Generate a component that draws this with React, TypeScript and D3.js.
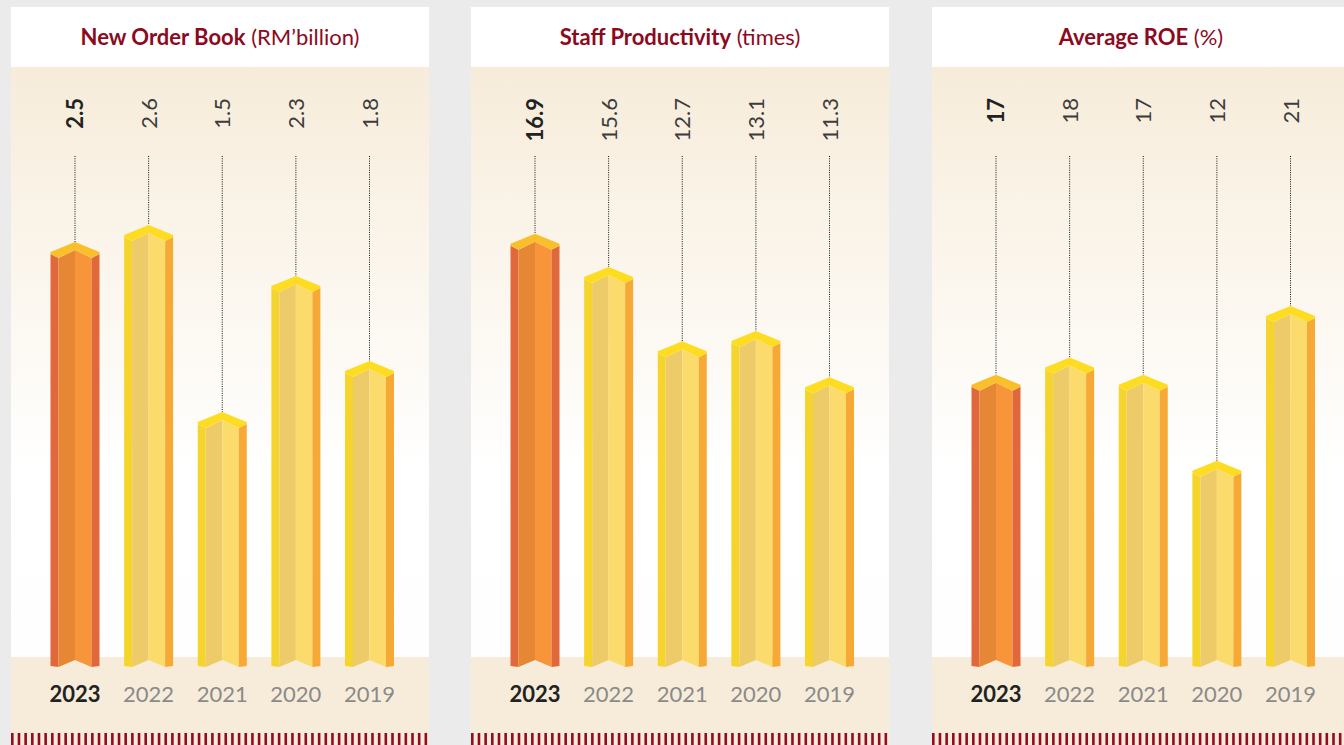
import * as d3 from 'd3';

// Three KPI panels, each a row of 3D "prism" bars, newest year highlighted in orange.

const years = ['2023', '2022', '2021', '2020', '2019'];
const orderBook = [2.5, 2.6, 1.5, 2.3, 1.8];
const staffProductivity = [16.9, 15.6, 12.7, 13.1, 11.3];
const averageRoe = [17, 18, 17, 12, 21];

const titles = ['New Order Book', 'Staff Productivity', 'Average ROE'];
const units = ['(RM\u2019billion)', '(times)', '(%)'];
const labelDigits = [1, 1, 0];

const W = 1344;
const H = 745;
const PANEL_W = 418;
const PANEL_X = [11, 471, 932];
const TOP = 7;
const BEIGE_TOP = 67;
const BAND_TOP = 657;
const STRIPE_TOP = 733;
const BASE_Y = 667;

const RED = '#8C0A1E';
const BEIGE = '#F7ECDA';

const HIGHLIGHT = { left: '#E0683A', midL: '#E68735', midR: '#F8943A', right: '#E0683A', cap: '#F9C02B' };
const NORMAL = { left: '#F6D42E', midL: '#EDCB68', midR: '#FBDB6C', right: '#F6A935', cap: '#FDDC22' };

const FONT = 'Lato, "Open Sans", sans-serif';

type Palette = typeof NORMAL;

function Prism({ cx, py, pal }: { cx: number; py: number; pal: Palette }) {
  const w = 24.5;
  const s = 8;
  const L = cx - w, R = cx + w, Ls = L + s, Rs = R - s;
  const pts = (a: [number, number][]) => a.map((p) => p.join(',')).join(' ');
  return (
    <g>
      <polygon fill={pal.left} points={pts([[L, py + 12], [Ls, py + 16], [Ls, BASE_Y], [L, BASE_Y - 1]])} />
      <polygon fill={pal.midL} points={pts([[Ls, py + 16], [cx, py + 8], [cx, BASE_Y - 7], [Ls, BASE_Y]])} />
      <polygon fill={pal.midR} points={pts([[cx, py + 8], [Rs, py + 16], [Rs, BASE_Y], [cx, BASE_Y - 7]])} />
      <polygon fill={pal.right} points={pts([[Rs, py + 16], [R, py + 12], [R, BASE_Y - 1], [Rs, BASE_Y]])} />
      <polygon fill={pal.cap} points={pts([[L, py + 10], [cx, py], [R, py + 10], [R, py + 12], [Rs, py + 16], [cx, py + 8], [Ls, py + 16], [L, py + 12]])} />
    </g>
  );
}

function Panel({ i, values, domainMax }: { i: number; values: number[]; domainMax: number }) {
  const x0 = PANEL_X[i];
  const x = d3.scalePoint<string>().domain(years).range([x0 + 64, x0 + 358.5]);
  const y = d3.scaleLinear().domain([0, domainMax]).range([BASE_Y, BASE_Y - 600]);
  const stripes = d3.range(x0, x0 + PANEL_W - 2, 6.67);
  const gid = `fade${i}`;
  return (
    <g>
      <defs>
        <linearGradient id={gid} x1="0" y1="0" x2="0" y2="1">
          <stop offset="0" stopColor={BEIGE} />
          <stop offset="0.68" stopColor="#FFFFFF" />
          <stop offset="1" stopColor="#FEFEFE" />
        </linearGradient>
      </defs>
      <rect x={x0} y={TOP} width={PANEL_W} height={BEIGE_TOP - TOP} fill="#FFFFFF" />
      <rect x={x0} y={BEIGE_TOP} width={PANEL_W} height={BAND_TOP - BEIGE_TOP} fill={`url(#${gid})`} />
      <rect x={x0} y={BAND_TOP} width={PANEL_W} height={H - BAND_TOP} fill={BEIGE} />
      {stripes.map((sx, k) => (
        <rect key={k} x={sx} y={STRIPE_TOP} width={2.6} height={H - STRIPE_TOP} fill="#950B22" />
      ))}
      <text x={x0 + PANEL_W / 2} y={45} textAnchor="middle" fontFamily={FONT} fontSize={22} fill={RED}>
        <tspan fontWeight={700}>{titles[i]}</tspan>
        <tspan fontWeight={400}> {units[i]}</tspan>
      </text>
      {values.map((v, k) => {
        const cx = x(years[k])!;
        const py = y(v);
        const hi = k === 0;
        return (
          <g key={k}>
            <line x1={cx} x2={cx} y1={156} y2={py} stroke="#111" strokeWidth={1} strokeDasharray="1,1.3" />
            <Prism cx={cx} py={py} pal={hi ? HIGHLIGHT : NORMAL} />
            <text
              transform={`translate(${cx + 8},98) rotate(-90)`}
              textAnchor="end"
              fontFamily={FONT}
              fontSize={22}
              fontWeight={hi ? 700 : 400}
              fill={hi ? '#222' : '#3C3C3C'}
            >
              {v.toFixed(labelDigits[i])}
            </text>
            <text
              x={cx}
              y={702}
              textAnchor="middle"
              fontFamily={FONT}
              fontSize={22}
              fontWeight={hi ? 700 : 400}
              fill={hi ? '#222' : '#8A8A8A'}
            >
              {years[k]}
            </text>
          </g>
        );
      })}
    </g>
  );
}

export default function App() {
  return (
    <div style={{ position: 'absolute', left: 0, top: 0 }}>
      <svg width={W} height={H} style={{ display: 'block' }}>
        <rect width={W} height={H} fill="#EBEBEB" />
        <Panel i={0} values={orderBook} domainMax={3.53} />
        <Panel i={1} values={staffProductivity} domainMax={23.4} />
        <Panel i={2} values={averageRoe} domainMax={34.9} />
      </svg>
    </div>
  );
}
